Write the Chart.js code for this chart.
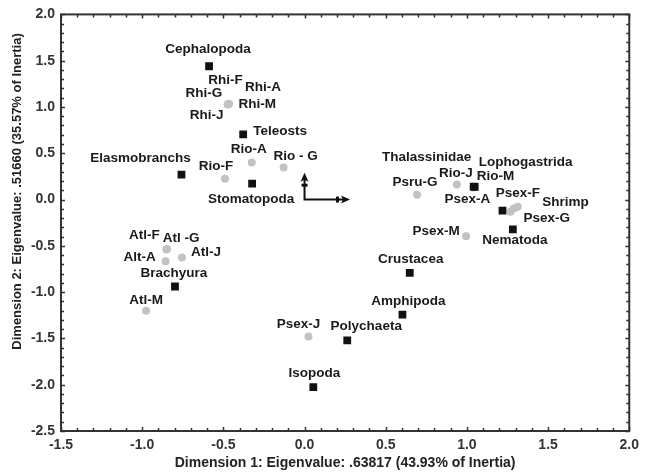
<!DOCTYPE html>
<html>
<head>
<meta charset="utf-8">
<script src="https://cdn.jsdelivr.net/npm/chart.js@4.4.0/dist/chart.umd.min.js"></script>
<style>
  html, body { margin: 0; padding: 0; background: #fff; }
</style>
</head>
<body>
<canvas id="caChart" width="645" height="474"></canvas>
<script>
// prey categories (black squares)
const preyNames = ["Cephalopoda", "Teleosts", "Elasmobranchs", "Stomatopoda", "Brachyura",
  "Thalassinidae", "Lophogastrida", "Shrimp", "Nematoda", "Crustacea", "Amphipoda",
  "Polychaeta", "Isopoda"];
const preyX = [-0.588, -0.378, -0.758, -0.323, -0.798, 1.042, 1.048, 1.219, 1.283, 0.648, 0.603, 0.263, 0.054];
const preyY = [1.440, 0.705, 0.270, 0.173, -0.939, 0.140, 0.138, -0.120, -0.322, -0.791, -1.243, -1.520, -2.026];

// sites / groups (grey circles)
const siteNames = ["Rhi-F", "Rhi-A", "Rhi-G", "Rhi-M", "Rhi-J", "Rio-A", "Rio - G", "Rio-F",
  "Rio-J", "Rio-M", "Atl-F", "Atl -G", "Alt-A", "Atl-J", "Atl-M", "Psru-G", "Psex-A",
  "Psex-F", "Psex-G", "Psex-M", "Psex-J"];
const siteX = [-0.468, -0.465, -0.472, -0.470, -0.473, -0.325, -0.129, -0.490,
  0.938, 1.040, -0.851, -0.847, -0.856, -0.755, -0.976, 0.693, 1.268, 1.289, 1.313, 0.995, 0.024];
const siteY = [1.036, 1.033, 1.030, 1.031, 1.027, 0.399, 0.346, 0.224,
  0.163, 0.130, -0.540, -0.533, -0.666, -0.626, -1.200, 0.052, -0.131, -0.096, -0.078, -0.397, -1.480];

const xTitle = "Dimension 1: Eigenvalue: .63817 (43.93% of Inertia)";
const yTitle = "Dimension 2: Eigenvalue: .51660 (35.57% of Inertia)";
const xRange = [-1.5, 2.0];
const yRange = [-2.5, 2.0];
const arrowEnds = [0.28, 0.29]; // length of the two axis arrows at origin (x, y)

// label placement in pixels relative to the mark
const preyLabelOff = [[-1, -17], [37, -3], [-41, -16], [-1, 16], [-1, -13], [-47, -29], [51, -24],
  [63, -8], [2, 11], [1, -14], [6, -13], [19, -14], [1, -14]];
const siteLabelOff = [[-3, -23], [34, -17], [-24, -11], [29, 0], [-21, 11], [-3, -13], [12, -11],
  [-9, -13], [-1, -11], [22, -11], [-22, -14], [14, -11], [-26, -4], [24, -5], [0, -10],
  [-2, -12], [-43, -12], [4, -15], [29, 12], [-30, -5], [-10, -12]];

const labelFont = "bold 13.5px 'Liberation Sans', Arial, sans-serif";

function toPoints(xs, ys) {
  return xs.map((x, i) => ({ x: x, y: ys[i] }));
}

function isMajor(v) {
  return Math.abs(v * 2 - Math.round(v * 2)) < 1e-6;
}

const decorPlugin = {
  id: "decor",
  afterDatasetsDraw(chart) {
    const ctx = chart.ctx;
    const a = chart.chartArea;
    const xs = chart.scales.x, ys = chart.scales.y;

    ctx.save();
    // frame
    ctx.strokeStyle = "#333";
    ctx.lineWidth = 2;
    ctx.strokeRect(a.left, a.top, a.right - a.left, a.bottom - a.top);

    // inward ticks on all four sides
    ctx.lineWidth = 1.5;
    ctx.beginPath();
    xs.ticks.forEach(t => {
      const px = Math.round(xs.getPixelForValue(t.value)) + 0.5;
      const len = isMajor(t.value) ? 4 : 3;
      ctx.moveTo(px, a.bottom); ctx.lineTo(px, a.bottom - len);
      ctx.moveTo(px, a.top); ctx.lineTo(px, a.top + len);
    });
    ys.ticks.forEach(t => {
      const py = Math.round(ys.getPixelForValue(t.value)) + 0.5;
      const len = isMajor(t.value) ? 4 : 3;
      ctx.moveTo(a.left, py); ctx.lineTo(a.left + len, py);
      ctx.moveTo(a.right, py); ctx.lineTo(a.right - len, py);
    });
    ctx.stroke();

    // arrows at the origin
    const ox = xs.getPixelForValue(0), oy = ys.getPixelForValue(0);
    const hx = xs.getPixelForValue(arrowEnds[0]), vy = ys.getPixelForValue(arrowEnds[1]);
    ctx.strokeStyle = "#111";
    ctx.fillStyle = "#111";
    ctx.lineWidth = 2;
    ctx.beginPath();
    ctx.moveTo(hx - 4, oy); ctx.lineTo(ox, oy); ctx.lineTo(ox, vy + 4);
    ctx.stroke();
    ctx.beginPath();
    ctx.moveTo(ox, vy); ctx.lineTo(ox - 4, vy + 9); ctx.lineTo(ox, vy + 7); ctx.lineTo(ox + 4, vy + 9);
    ctx.closePath(); ctx.fill();
    ctx.fillRect(ox - 3, vy + 11, 6, 3);
    ctx.beginPath();
    ctx.moveTo(hx, oy); ctx.lineTo(hx - 9, oy - 4); ctx.lineTo(hx - 7, oy); ctx.lineTo(hx - 9, oy + 4);
    ctx.closePath(); ctx.fill();
    ctx.fillRect(hx - 14, oy - 3, 3, 6);

    // point labels
    ctx.font = labelFont;
    ctx.fillStyle = "#1a1a1a";
    ctx.textAlign = "center";
    ctx.textBaseline = "middle";
    const offs = [preyLabelOff, siteLabelOff];
    const names = [preyNames, siteNames];
    [0, 1].forEach(d => {
      chart.getDatasetMeta(d).data.forEach((el, i) => {
        const o = offs[d][i];
        ctx.fillText(names[d][i], el.x + o[0], el.y + o[1]);
      });
    });

    // axis titles
    ctx.font = "bold 14px 'Liberation Sans', Arial, sans-serif";
    ctx.fillStyle = "#222";
    ctx.fillText(xTitle, (a.left + a.right) / 2, 463);
    ctx.font = "bold 13px 'Liberation Sans', Arial, sans-serif";
    ctx.translate(17, a.top + (a.bottom - a.top) * 0.425);
    ctx.rotate(-Math.PI / 2);
    ctx.fillText(yTitle, 0, 0);
    ctx.restore();
  }
};

const tickFont = { family: "'Liberation Sans', Arial, sans-serif", size: 14, weight: "bold" };

new Chart(document.getElementById("caChart"), {
  type: "scatter",
  data: {
    datasets: [
      {
        label: "Prey",
        data: toPoints(preyX, preyY),
        pointStyle: "rect",
        pointRadius: 5.5,
        backgroundColor: "#111",
        borderColor: "#111",
        borderWidth: 0
      },
      {
        label: "Sites",
        data: toPoints(siteX, siteY),
        pointStyle: "circle",
        pointRadius: 4,
        backgroundColor: "#c2c2c2",
        borderColor: "#c2c2c2",
        borderWidth: 0
      }
    ]
  },
  options: {
    responsive: false,
    animation: false,
    devicePixelRatio: 1,
    layout: { padding: { top: 12, right: 12, left: 0, bottom: 0 } },
    plugins: { legend: { display: false }, tooltip: { enabled: false } },
    scales: {
      x: {
        type: "linear",
        min: xRange[0], max: xRange[1],
        grid: { display: false, drawTicks: false },
        border: { display: false },
        afterFit: s => { s.height = 43; },
        ticks: {
          stepSize: 0.1, autoSkip: false, maxRotation: 0, padding: 6,
          color: "#333", font: tickFont,
          callback: v => isMajor(v) ? v.toFixed(1) : ""
        }
      },
      y: {
        type: "linear",
        min: yRange[0], max: yRange[1],
        grid: { display: false, drawTicks: false },
        border: { display: false },
        afterFit: s => { s.width = 61; },
        ticks: {
          stepSize: 0.1, autoSkip: false, padding: 6,
          color: "#333", font: tickFont,
          callback: v => isMajor(v) ? v.toFixed(1) : ""
        }
      }
    }
  },
  plugins: [decorPlugin]
});
</script>
</body>
</html>
